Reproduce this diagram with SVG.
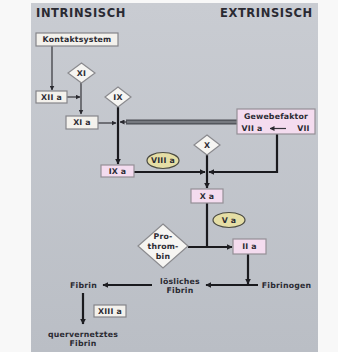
<svg xmlns="http://www.w3.org/2000/svg" width="338" height="352" viewBox="0 0 338 352">
<defs>
<linearGradient id="bg" x1="0" y1="0" x2="0" y2="1">
<stop offset="0" stop-color="#c9ccd2"/>
<stop offset="1" stop-color="#babec5"/>
</linearGradient>
<marker id="ah" viewBox="0 0 10 10" refX="9" refY="5" markerWidth="6" markerHeight="6" markerUnits="userSpaceOnUse" orient="auto">
<path d="M0,0 L10,5 L0,10 z" fill="#1e1e22"/>
</marker>
<marker id="ahs" viewBox="0 0 10 10" refX="9" refY="5" markerWidth="5" markerHeight="5" markerUnits="userSpaceOnUse" orient="auto">
<path d="M0,0 L10,5 L0,10 z" fill="#2a2a30"/>
</marker>
</defs>
<style>
text{font-family:"DejaVu Sans","Liberation Sans",Arial,sans-serif;font-weight:bold;fill:#2b2b33;text-anchor:middle;dominant-baseline:central}
.h{font-size:11.5px;letter-spacing:0.6px;text-anchor:start;fill:#2a2a32}
.t{font-size:7.8px;letter-spacing:0.2px}
.bw{fill:#f3f1ec;stroke:#85858a;stroke-width:1.2}
.bp{fill:#f4dcef;stroke:#948f96;stroke-width:1.2}
.dm{fill:#f6f5f2;stroke:#8a8a8e;stroke-width:1.2}
.el{fill:#e5dea5;stroke:#4a4a42;stroke-width:1.2}
.thin{fill:none;stroke:#34343a;stroke-width:1.2}
.thick{fill:none;stroke:#1a1a1e;stroke-width:2.2}
</style>
<rect x="0" y="0" width="338" height="352" fill="#f8f8f8"/>
<rect x="31" y="3" width="287" height="349" fill="url(#bg)"/>
<text class="h" x="36" y="13">INTRINSISCH</text>
<text class="h" x="220" y="13">EXTRINSISCH</text>

<g id="connectors">
<path class="thin" d="M52,46 V90" marker-end="url(#ahs)"/>
<path class="thin" d="M67,97 H80" marker-end="url(#ahs)"/>
<path class="thin" d="M81,83 V114" marker-end="url(#ahs)"/>
<path class="thin" d="M98,123 H116" marker-end="url(#ahs)"/>
<path class="thick" d="M118,107 V164" marker-end="url(#ah)"/>
<path d="M237,122 H126" fill="none" stroke="#4a4c52" stroke-width="5"/>
<path d="M237,122 H126" fill="none" stroke="#76797f" stroke-width="2.5"/>
<path class="thin" d="M127,122 H120" marker-end="url(#ahs)"/>
<path class="thick" d="M134,172 H205" marker-end="url(#ah)"/>
<path class="thick" d="M277,134 V172 H209" marker-end="url(#ah)"/>
<path class="thick" d="M207,155 V188" marker-end="url(#ah)"/>
<path class="thick" d="M207,203 V247"/>
<path class="thick" d="M188,247 H232" marker-end="url(#ah)"/>
<path class="thick" d="M248,254 V284" marker-end="url(#ah)"/>
<path class="thick" d="M258,285 H206" marker-end="url(#ah)"/>
<path class="thick" d="M152,285 H103" marker-end="url(#ah)"/>
<path class="thick" d="M83,293 V324" marker-end="url(#ah)"/>
</g>

<g id="kontaktsystem"><rect class="bw" x="36" y="33" width="82" height="13"/><text class="t" x="77" y="39.5">Kontaktsystem</text></g>
<g id="xi"><polygon class="dm" points="81.5,63 95,73 81.5,83 68,73"/><text class="t" x="81.5" y="73">XI</text></g>
<g id="xiia"><rect class="bw" x="36" y="91" width="31" height="12"/><text class="t" x="51.5" y="97">XII a</text></g>
<g id="ix"><polygon class="dm" points="118,87 131,97 118,107 105,97"/><text class="t" x="118" y="97">IX</text></g>
<g id="xia"><rect class="bw" x="66" y="116" width="32" height="13"/><text class="t" x="82" y="122.5">XI a</text></g>
<g id="gewebefaktor"><rect class="bp" x="237" y="109" width="78" height="25"/><text class="t" x="276" y="116">Gewebefaktor</text><text class="t" x="252" y="128.5">VII a</text><path class="thin" d="M286,128.5 H270" marker-end="url(#ahs)"/><text class="t" x="303.5" y="128.5">VII</text></g>
<g id="x"><polygon class="dm" points="207,135 220,145 207,155 194,145"/><text class="t" x="207" y="145">X</text></g>
<g id="viiia"><ellipse class="el" cx="163" cy="160.5" rx="16" ry="8"/><text class="t" x="163" y="160.5">VIII a</text></g>
<g id="ixa"><rect class="bp" x="101" y="165" width="33" height="12"/><text class="t" x="117.5" y="171">IX a</text></g>
<g id="xa"><rect class="bp" x="191" y="189" width="32" height="14"/><text class="t" x="207" y="196">X a</text></g>
<g id="va"><ellipse class="el" cx="229" cy="220" rx="16" ry="7.5"/><text class="t" x="229" y="220">V a</text></g>
<g id="prothrombin"><polygon class="dm" points="163,224 188,246 163,268 138,246"/><text class="t" x="163" y="236.5">Pro-</text><text class="t" x="163" y="246.5">throm-</text><text class="t" x="163" y="256.5">bin</text></g>
<g id="iia"><rect class="bp" x="233" y="239" width="33" height="15"/><text class="t" x="249.5" y="246.5">II a</text></g>
<g id="fibrinogen"><text class="t" x="286.5" y="285">Fibrinogen</text></g>
<g id="loeslichesfibrin"><text class="t" x="180" y="281">lösliches</text><text class="t" x="180" y="290.5">Fibrin</text></g>
<g id="fibrin"><text class="t" x="83.5" y="285">Fibrin</text></g>
<g id="xiiia"><rect class="bw" x="94" y="305" width="32" height="12"/><text class="t" x="110" y="311">XIII a</text></g>
<g id="quervernetztesfibrin"><text class="t" x="83" y="334">quervernetztes</text><text class="t" x="83" y="343">Fibrin</text></g>
</svg>
